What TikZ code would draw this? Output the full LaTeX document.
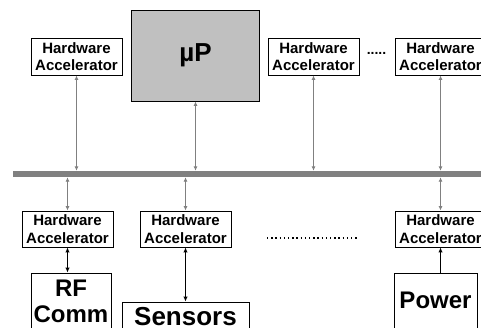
\documentclass[tikz,border=0pt]{standalone}
\usepackage{fontspec}
\setmainfont{Liberation Sans}
\usetikzlibrary{arrows.meta,positioning}
\definecolor{busgray}{RGB}{128,128,128}
\definecolor{cpugray}{RGB}{192,192,192}

\begin{document}
\begin{tikzpicture}[x=1pt,y=-1pt,
  hwacc/.style={draw,line width=0.9pt,minimum width=91pt,minimum height=37pt,inner sep=1pt,align=center,font=\bfseries\fontsize{15}{17.5}\selectfont},
  dev/.style={draw,line width=0.9pt,inner sep=0pt,align=center,font=\bfseries\fontsize{24}{26}\selectfont},
  busarr/.style={{Latex[length=4.5pt,width=4pt]}-{Latex[length=4.5pt,width=4pt]},draw=busgray,line width=1.6pt},
  devarr/.style={{Latex[length=5pt,width=4.5pt]}-{Latex[length=5pt,width=4.5pt]},line width=1.8pt},
  uparr/.style={-{Latex[length=5pt,width=4.5pt]},line width=1.8pt}
]
  \useasboundingbox (0,0) rectangle (481,327);
  \node[fill=busgray,minimum width=470pt,minimum height=6pt,inner sep=0pt] (bus) at (248,174) {};
  \node[draw,line width=0.9pt,fill=cpugray,minimum width=128pt,minimum height=91pt,font=\bfseries\fontsize{26}{28}\selectfont] (cpu) at (195.5,55.5) {µP};
  \node[hwacc] (ha1) at (76.5,56.5) {Hardware\\Accelerator};
  \node[hwacc] (ha2) at (313.5,56.5) {Hardware\\Accelerator};
  \node[hwacc] (ha3) at (440.5,56.5) {Hardware\\Accelerator};
  \node[font=\bfseries\fontsize{14}{14}\selectfont,inner sep=0pt] (gap) at (376.5,53) {.....};
  \node[hwacc,minimum height=36pt] (hb1) at (67.5,229) {Hardware\\Accelerator};
  \node[hwacc,minimum height=36pt] (hb2) at (185.5,229) {Hardware\\Accelerator};
  \node[hwacc,minimum height=36pt] (hb3) at (440.5,229) {Hardware\\Accelerator};
  \coordinate (dl) at (267,238);
  \coordinate (dr) at (359,238);
  \draw[line width=1.3pt,dash pattern=on 1.3pt off 2.9pt] (dl) -- (dr);
  \node[dev,minimum width=80pt,minimum height=57pt] (rf) at (71,301.5) {RF\\Comm};
  \node[dev,minimum width=127pt,minimum height=29pt,font=\bfseries\fontsize{26}{28}\selectfont] (sens) at (185.5,316.5) {Sensors};
  \node[dev,minimum width=83pt,minimum height=55pt] (pwr) at (435.5,300.5) {Power};
  \draw[busarr] (ha1.south) -- (ha1.south |- bus.north);
  \draw[busarr] (cpu.south) -- (cpu.south |- bus.north);
  \draw[busarr] (ha2.south) -- (ha2.south |- bus.north);
  \draw[busarr] (ha3.south) -- (ha3.south |- bus.north);
  \draw[busarr] (bus.south -| hb1.north) -- (hb1.north);
  \draw[busarr] (bus.south -| hb2.north) -- (hb2.north);
  \draw[busarr] (bus.south -| hb3.north) -- (hb3.north);
  \draw[devarr] (hb1.south) -- (hb1.south |- rf.north);
  \draw[devarr] (hb2.south) -- (hb2.south |- sens.north);
  \draw[uparr] (pwr.north -| hb3.south) -- (hb3.south);
\end{tikzpicture}
\end{document}
